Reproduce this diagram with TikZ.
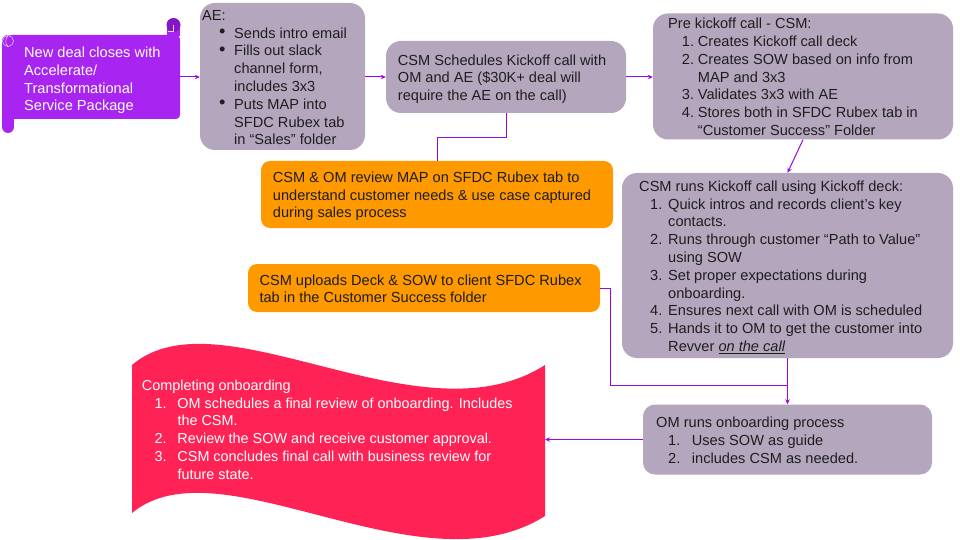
\documentclass[tikz,border=0pt]{standalone}
\usepackage{fontspec}
\setmainfont{Liberation Sans}
\usetikzlibrary{arrows.meta}
\definecolor{scrollC}{RGB}{168,36,240}
\definecolor{scrollDark}{RGB}{132,22,196}
\definecolor{boxgray}{RGB}{180,167,189}
\definecolor{orangeC}{RGB}{255,153,0}
\definecolor{waveC}{RGB}{255,34,85}
\definecolor{lineC}{RGB}{150,10,225}
\definecolor{txtC}{RGB}{30,30,30}
\newcommand\nitem[3]{\hspace*{#1}\makebox[#2][l]{#3}}
\newcommand\bul{\raisebox{0.3pt}{\scalebox{1.25}{•}}}
\tikzset{
  conn/.style={draw=lineC, line width=1pt},
  arr/.style={conn, -{Stealth[length=5pt,width=4.5pt]}},
  graybox/.style={fill=boxgray, draw=none, rounded corners=15pt, inner sep=0pt},
  orangebox/.style={fill=orangeC, draw=none, rounded corners=9pt, inner sep=0pt},
  txt/.style={anchor=north west, inner sep=0pt, align=left, text=txtC,
    font=\fontsize{14.6}{17.8}\selectfont},
  wtxt/.style={txt, text=white},
  smtxt/.style={anchor=north west, inner sep=0pt, align=left, text=white,
    font=\fontsize{14.4}{17.9}\selectfont}
}
\begin{document}
\begin{tikzpicture}[x=1pt,y=-1pt]
\useasboundingbox (0,0) rectangle (960,540);
\fill[white] (0,0) rectangle (960,540);

% ---- scroll ----
\node[fill=scrollC, draw=none, rounded corners=4pt, inner sep=0pt,
      minimum width=172pt, minimum height=84pt] (scroll) at (94,77) {};
\fill[scrollC] (167,25) rectangle (180,36);
\fill[scrollDark] (173.5,25) circle (7);
\draw[white!80!scrollC, line width=0.5pt] (173.5,25) -- (173.5,31) -- (168,31);
\fill[scrollC] (2,41) rectangle (14,127);
\fill[scrollC] (8,127) circle (6);
\fill[scrollC] (8,41) circle (6);
\draw[white!85!scrollC, line width=0.5pt] (8,41) circle (5.5);
\draw[white!85!scrollC, line width=0.5pt] (8,35.5) .. controls (5,39) and (5,44) .. (8,46.5);
\node[wtxt] (scrolltxt) at (24,46.7) {New deal closes with\\Accelerate/\\Transformational\\Service Package};

% ---- AE ----
\node[graybox, minimum width=165pt, minimum height=147pt] (ae) at (282.5,76.5) {};
\node[txt] (aetxt) at (202,10) {AE:\\
\nitem{17pt}{15pt}{\bul}Sends intro email\\
\nitem{17pt}{15pt}{\bul}Fills out slack\\
\hspace*{32pt}channel form,\\
\hspace*{32pt}includes 3x3\\
\nitem{17pt}{15pt}{\bul}Puts MAP into\\
\hspace*{32pt}SFDC Rubex tab\\
\hspace*{32pt}in “Sales” folder};

% ---- CSM schedules ----
\node[graybox, minimum width=240pt, minimum height=72pt] (sched) at (506,77) {};
\node[txt] (schedtxt) at (397.7,54.3) {CSM Schedules Kickoff call with\\OM and AE (\$30K+ deal will\\require the AE on the call)};

% ---- Pre kickoff ----
\node[graybox, minimum width=300pt, minimum height=126pt] (pre) at (803,76.5) {};
\node[txt] (pretxt) at (668,18) {Pre kickoff call - CSM:\\
\nitem{13.7pt}{16pt}{1.}Creates Kickoff call deck\\
\nitem{13.7pt}{16pt}{2.}Creates SOW based on info from\\
\hspace*{29.7pt}MAP and 3x3\\
\nitem{13.7pt}{16pt}{3.}Validates 3x3 with AE\\
\nitem{13.7pt}{16pt}{4.}Stores both in SFDC Rubex tab in\\
\hspace*{29.7pt}“Customer Success” Folder};

% ---- orange review ----
\node[orangebox, minimum width=352pt, minimum height=67pt] (rev) at (437,194.5) {};
\node[txt] (revtxt) at (272.7,171.5) {CSM \& OM review MAP on SFDC Rubex tab to\\understand customer needs \& use case captured\\during sales process};

% ---- CSM runs ----
\node[graybox, minimum width=331pt, minimum height=185pt] (runs) at (787.5,265.5) {};
\node[txt] (runstxt) at (639,180.5) {CSM runs Kickoff call using Kickoff deck:\\
\nitem{11pt}{18pt}{1.}Quick intros and records client’s key\\
\hspace*{29pt}contacts.\\
\nitem{11pt}{18pt}{2.}Runs through customer “Path to Value”\\
\hspace*{29pt}using SOW\\
\nitem{11pt}{18pt}{3.}Set proper expectations during\\
\hspace*{29pt}onboarding.\\
\nitem{11pt}{18pt}{4.}Ensures next call with OM is scheduled\\
\nitem{11pt}{18pt}{5.}Hands it to OM to get the customer into\\
\hspace*{29pt}Revver \underline{\textit{on the call}}};

% ---- orange upload ----
\node[orangebox, minimum width=352pt, minimum height=48pt] (up) at (424,288) {};
\node[txt] (uptxt) at (259.3,274.3) {CSM uploads Deck \& SOW to client SFDC Rubex\\tab in the Customer Success folder};

% ---- OM runs ----
\node[graybox, minimum width=289pt, minimum height=70pt, rounded corners=12pt] (om) at (787.5,439.5) {};
\node[txt] (omtxt) at (656,416.7) {OM runs onboarding process\\
\nitem{12pt}{23.7pt}{1.}Uses SOW as guide\\
\nitem{12pt}{23.7pt}{2.}includes CSM as needed.};

% ---- wave ----
\fill[waveC] (132,365) .. controls (220,290) and (420,445) .. (545,365)
  -- (545,516) .. controls (420,595) and (220,440) .. (132,513) -- cycle;
\coordinate (waveE) at (545,439.5);
\node[smtxt] (wavetxt) at (141.7,379.5) {Completing onboarding\\
\nitem{12.6pt}{23pt}{1.}OM schedules a final review of onboarding. Includes\\
\hspace*{35.6pt}the CSM.\\
\nitem{12.6pt}{23pt}{2.}Review the SOW and receive customer approval.\\
\nitem{12.6pt}{23pt}{3.}CSM concludes final call with business review for\\
\hspace*{35.6pt}future state.};

% ---- connectors ----
\draw[arr] (scroll.east) -- (ae.west |- scroll.east);
\draw[arr] (ae.east |- sched.west) -- (sched.west);
\draw[arr] (sched.east) -- (pre.west |- sched.east);
\draw[conn] (sched.south) -- ++(0,24) -| (rev.north);
\draw[arr] (pre.south) -- (runs.north);
\coordinate (join) at (787.5,385);
\draw[conn] (up.east) -- ++(10,0) |- (join);
\draw[arr] (runs.south) -- (om.north);
\draw[arr] (om.west) -- (waveE);
\end{tikzpicture}
\end{document}
